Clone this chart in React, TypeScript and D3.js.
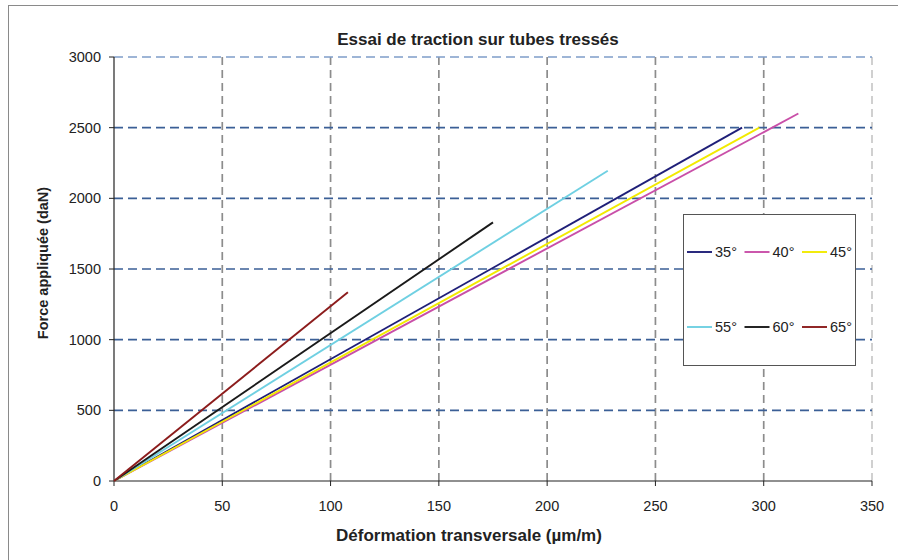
import React from "react";
import * as d3 from "d3";

const WIDTH = 898;
const HEIGHT = 560;
const MARGIN = {left: 114, right: 26, top: 57, bottom: 79};

const SERIES_NAMES = ["35°", "40°", "45°", "55°", "60°", "65°"];
const SERIES_COLORS = ["#1f1f78", "#c94fa8", "#f2ea00", "#6fd0e2", "#1a1a1a", "#8c1c1c"];
// each series: [deformation, force] pairs
const SERIES_35 = [[0, 0], [290, 2500]];
const SERIES_40 = [[0, 0], [316, 2600]];
const SERIES_45 = [[0, 0], [298, 2500]];
const SERIES_55 = [[0, 0], [228, 2195]];
const SERIES_60 = [[0, 0], [175, 1830]];
const SERIES_65 = [[0, 0], [108, 1335]];
const SERIES_DATA = [SERIES_35, SERIES_40, SERIES_45, SERIES_55, SERIES_60, SERIES_65];

const X_TICKS = [0, 50, 100, 150, 200, 250, 300, 350];
const Y_TICKS = [0, 500, 1000, 1500, 2000, 2500, 3000];

const FONT = "'Liberation Sans', Arial, sans-serif";

export default function App() {
    const x = d3.scaleLinear().domain([0, 350]).range([MARGIN.left, WIDTH - MARGIN.right]);
    const y = d3.scaleLinear().domain([0, 3000]).range([HEIGHT - MARGIN.bottom, MARGIN.top]);
    const line = d3.line<number[]>().x(d => x(d[0])).y(d => y(d[1]));

    const x0 = x(0), y0 = y(0);

    return (
        <svg width={WIDTH} height={HEIGHT} style={{position: "absolute", left: 0, top: 0}} fontFamily={FONT}>
            <rect x={0} y={0} width={WIDTH} height={HEIGHT} fill="#fff"/>
            <rect x={8.5} y={5.5} width={WIDTH + 10} height={HEIGHT + 10} fill="none" stroke="#8a8a8a" strokeWidth={1}/>

            {/* vertical grid */}
            {X_TICKS.filter(t => t > 0).map(t => (
                <line key={"vx" + t} x1={x(t)} x2={x(t)} y1={y(3000)} y2={y0}
                      stroke={t === 350 ? "#c8c8c8" : "#8c8c8c"} strokeWidth={1.7} strokeDasharray="8,5"/>
            ))}
            {/* horizontal grid */}
            {Y_TICKS.filter(t => t > 0).map(t => (
                <line key={"hy" + t} x1={x0} x2={x(350)} y1={y(t)} y2={y(t)}
                      stroke={t === 3000 ? "#7f9dc9" : "#3b5f96"} strokeWidth={1.7} strokeDasharray="9,5"/>
            ))}

            {/* axes */}
            <line x1={x0} x2={x0} y1={y(3000)} y2={y0} stroke="#222" strokeWidth={1.2}/>
            <line x1={x0} x2={x(350)} y1={y0} y2={y0} stroke="#222" strokeWidth={1.2}/>
            {Y_TICKS.map(t => (
                <g key={"yt" + t}>
                    <line x1={x0 - 5} x2={x0} y1={y(t)} y2={y(t)} stroke="#222"/>
                    <text x={x0 - 13} y={y(t)} dy="0.35em" textAnchor="end" fontSize={14.5} fill="#222">{t}</text>
                </g>
            ))}
            {X_TICKS.map(t => (
                <g key={"xt" + t}>
                    <line x1={x(t)} x2={x(t)} y1={y0} y2={y0 + 5} stroke="#222"/>
                    <text x={x(t)} y={y0 + 30} textAnchor="middle" fontSize={14.5} fill="#222">{t}</text>
                </g>
            ))}

            {/* series */}
            {SERIES_DATA.map((d, i) => (
                <path key={"s" + i} d={line(d) || ""} fill="none" stroke={SERIES_COLORS[i]} strokeWidth={1.9}/>
            ))}

            {/* legend */}
            <rect x={683.5} y={214.5} width={172} height={151} fill="#fff" stroke="#555" strokeWidth={1}/>
            {SERIES_NAMES.map((name, i) => {
                const col = i % 3, row = Math.floor(i / 3);
                const lx = 687 + col * 57.5;
                const ly = row === 0 ? 252 : 327;
                return (
                    <g key={"lg" + i}>
                        <line x1={lx} x2={lx + 25} y1={ly} y2={ly} stroke={SERIES_COLORS[i]} strokeWidth={1.9}/>
                        <text x={lx + 28} y={ly} dy="0.35em" fontSize={14.5} fill="#222">{name}</text>
                    </g>
                );
            })}

            {/* titles */}
            <text x={478} y={45} textAnchor="middle" fontSize={17} fontWeight="bold" fill="#222">
                Essai de traction sur tubes tressés
            </text>
            <text x={469} y={541} textAnchor="middle" fontSize={17} fontWeight="bold" fill="#222">
                Déformation transversale (µm/m)
            </text>
            <text transform="translate(48,263) rotate(-90)" textAnchor="middle" fontSize={14.5}
                  fontWeight="bold" fill="#222">
                Force appliquée (daN)
            </text>
        </svg>
    );
}
